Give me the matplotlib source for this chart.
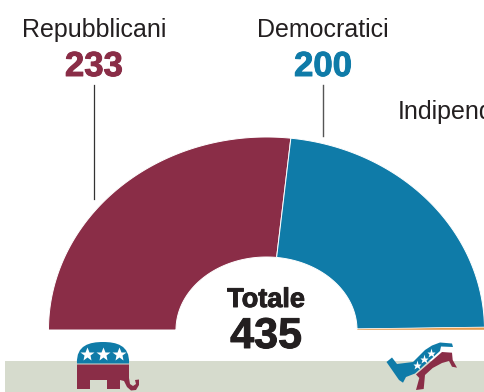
import numpy as np
import matplotlib
matplotlib.use("Agg")
import matplotlib.pyplot as plt
import matplotlib.patheffects as pe
from matplotlib.patches import Polygon, PathPatch, Rectangle
from matplotlib.path import Path

# House seats per party
parties = ["Repubblicani", "Democratici", "Indipendenti"]
seats = [233, 200, 2]
colors = ["#8a2d47", "#0f7ba8", "#e59b4e"]
edge_widths = [0.7, 0.7, 0.3]
total = 435

DARK = "#231f20"
RED, BLUE = colors[0], colors[1]

plt.rcParams["font.family"] = ["Liberation Sans", "DejaVu Sans"]

fig = plt.figure(figsize=(4.84, 3.92), dpi=100)
ax = fig.add_axes([0, 0, 1, 1])
ax.set_xlim(0, 484)
ax.set_ylim(392, 0)
ax.axis("off")

# Ground band under the arc
ax.add_patch(Rectangle((5, 361), 479, 31, color="#d6dbcd", lw=0, zorder=0))

# Half donut, squashed a little in the vertical
cx, cy = 266.5, 330
rx_out, ry_out = 218, 193
rx_in, ry_in = 90.5, 73

start = 180.0
for value, col, lw in zip(seats, colors, edge_widths):
    sweep = value / total * 180
    t = np.radians(np.linspace(start, start - sweep, 200))
    xs = np.r_[cx + rx_out * np.cos(t), cx + rx_in * np.cos(t[::-1])]
    ys = np.r_[cy - ry_out * np.sin(t), cy - ry_in * np.sin(t[::-1])]
    ax.fill(xs, ys, facecolor=col, edgecolor="white", lw=lw, zorder=2)
    start -= sweep


def heavy(color, width=0.7):
    # thicker strokes for the big numbers
    return [pe.withStroke(linewidth=width, foreground=color)]


# Party labels and leader lines
ax.text(94, 36.5, parties[0], fontsize=18, color=DARK, ha="center", va="baseline")
ax.text(94, 76, str(seats[0]), fontsize=25, fontweight="bold", color=RED,
        ha="center", va="baseline", path_effects=heavy(RED))
ax.plot([94, 94], [85, 199], color="#333333", lw=0.9, zorder=1)

ax.text(323, 36.5, parties[1], fontsize=18, color=DARK, ha="center", va="baseline")
ax.text(323, 76, str(seats[1]), fontsize=25, fontweight="bold", color=BLUE,
        ha="center", va="baseline", path_effects=heavy(BLUE))
ax.plot([323, 323], [85, 136], color="#555555", lw=1.0, zorder=1)

ax.text(398, 118.5, parties[2], fontsize=18, color=DARK, ha="left", va="baseline", clip_on=True)

# Total in the hole of the donut
ax.text(266, 307, "Totale", fontsize=19.5, fontweight="bold", color=DARK,
        ha="center", va="baseline", path_effects=heavy(DARK))
ax.text(266, 348, str(total), fontsize=31, fontweight="bold", color=DARK,
        ha="center", va="baseline", path_effects=heavy(DARK))

M, C, Z = Path.MOVETO, Path.CURVE4, Path.CLOSEPOLY

# Elephant: blue back with stars
ax.add_patch(PathPatch(Path(
    [(77, 363.5), (76, 345), (90, 342), (103, 342), (116, 342), (130, 345), (129, 363.5), (77, 363.5)],
    [M, C, C, C, C, C, C, Z]), facecolor=BLUE, edgecolor="none", zorder=3))
ax.plot([87, 103, 119], [353.5, 353.5, 353.5], ls="none", marker="*", ms=10,
        mfc="white", mec="none", zorder=4)

# Elephant: red legs and trunk
ax.add_patch(Polygon([(77, 364.5), (129, 364.5), (129, 378), (130, 384), (133, 386), (136, 384),
                      (135, 380), (139, 379.5), (139, 385), (136, 390), (131, 390.5), (127, 387),
                      (124, 381), (120, 380), (120, 389), (107, 389), (107, 380), (90, 380),
                      (90, 389), (77, 389)], closed=True, facecolor=RED, edgecolor="none", zorder=3))

# Donkey: blue body with stars, red legs
ax.add_patch(Polygon([(386.5, 362), (392, 357.5), (397, 364), (413, 362), (425, 350), (432, 345.5),
                      (440, 342.5), (452, 343.5), (453, 347), (441, 346.5), (440, 351), (415, 373.5),
                      (406, 377), (403, 382.7), (399, 380)],
                     closed=True, facecolor=BLUE, edgecolor="none", zorder=3))
ax.plot([416.5, 424, 431], [364.5, 359, 353], ls="none", marker="*", ms=6.5,
        mfc="white", mec="none", zorder=4)
ax.add_patch(Polygon([(416, 374.5), (442, 352), (452, 352.7), (452.7, 360), (457, 367.7), (452, 366.7),
                      (449, 361), (442, 363), (432.7, 368), (425, 375), (423.7, 389), (416, 390),
                      (419.3, 378)],
                     closed=True, facecolor=RED, edgecolor="none", zorder=3))

fig.savefig("out.png", dpi=100)
